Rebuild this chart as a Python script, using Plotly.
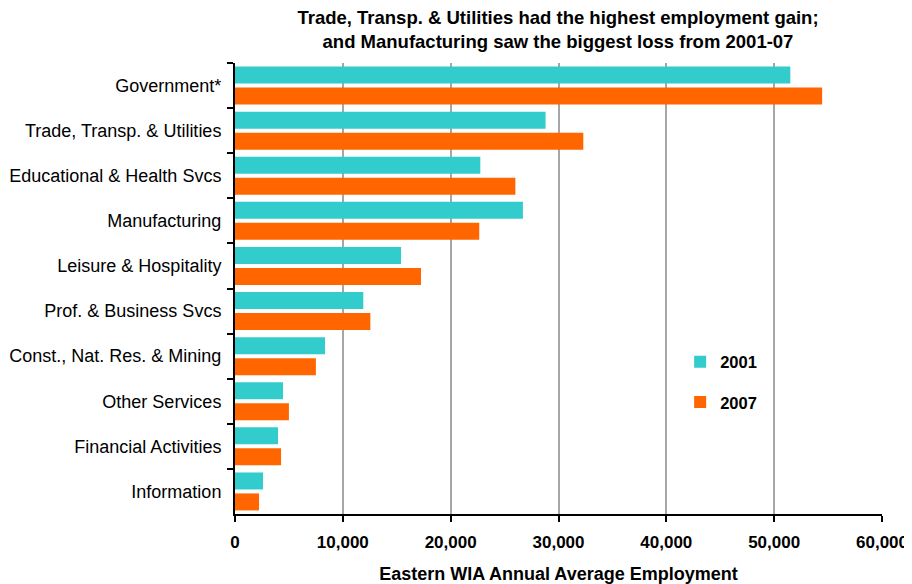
import plotly.graph_objects as go

categories = ["Government*", "Trade, Transp. & Utilities", "Educational & Health Svcs",
              "Manufacturing", "Leisure & Hospitality", "Prof. & Business Svcs",
              "Const., Nat. Res. & Mining", "Other Services", "Financial Activities",
              "Information"]
values_2001 = [51500, 28800, 22750, 26700, 15400, 11900, 8350, 4450, 3990, 2600]
values_2007 = [54450, 32300, 26000, 22650, 17250, 12550, 7500, 5000, 4270, 2230]
x_ticks = [0, 10000, 20000, 30000, 40000, 50000, 60000]
x_tick_labels = ["0", "10,000", "20,000", "30,000", "40,000", "50,000", "60,000"]

font_family = "Liberation Sans, Arial, sans-serif"

# page body has an 8px margin, so the figure is sized/placed to compensate
W, H = 904, 576

fig = go.Figure()
fig.add_trace(go.Bar(y=categories, x=values_2001, name="2001", orientation="h",
                     marker=dict(color="#33CCCC", line=dict(width=0)), legendgroup="a"))
fig.add_trace(go.Bar(y=categories, x=values_2007, name="2007", orientation="h",
                     marker=dict(color="#FF6600", line=dict(width=0)), legendgroup="b"))

fig.update_layout(
    width=W, height=H,
    margin=dict(l=227, r=30, t=55, b=70, autoexpand=False),
    paper_bgcolor="white", plot_bgcolor="white",
    barmode="group", bargap=0.07, bargroupgap=0.19,
    title=dict(text="<b>Trade, Transp. & Utilities had the highest employment gain;<br>and Manufacturing saw the biggest loss from 2001-07</b>",
               x=550/W, xanchor="center", xref="container", yref="container",
               y=1 - 16/H, yanchor="top",
               font=dict(family=font_family, size=18.5, color="black")),
    font=dict(family=font_family, color="black"),
    legend=dict(x=0.688, y=0.376, xanchor="left", yanchor="top",
                font=dict(size=16.5, family=font_family, color="black", weight="bold"),
                traceorder="grouped", tracegroupgap=16, bgcolor="rgba(0,0,0,0)"),
    xaxis=dict(range=[0, 60000], tickvals=x_ticks, ticktext=x_tick_labels,
               showgrid=True, gridcolor="#A6A6A6", gridwidth=2,
               showline=True, linecolor="black", linewidth=2,
               ticks="outside", ticklen=6, tickwidth=2, tickcolor="black",
               ticklabelstandoff=6, automargin=False,
               tickfont=dict(size=17, family=font_family, color="black", weight="bold"),
               title=dict(text="<b>Eastern WIA Annual Average Employment</b>",
                          font=dict(size=18, family=font_family, color="black"), standoff=16),
               zeroline=False),
    yaxis=dict(autorange="reversed", showline=True, linecolor="black", linewidth=2,
               ticks="outside", ticklen=6, tickwidth=2, tickcolor="black",
               tickson="boundaries", ticklabelstandoff=8, automargin=False,
               tickfont=dict(size=18, family=font_family, color="black"),
               showgrid=False),
)

fig.write_html("out.html")
